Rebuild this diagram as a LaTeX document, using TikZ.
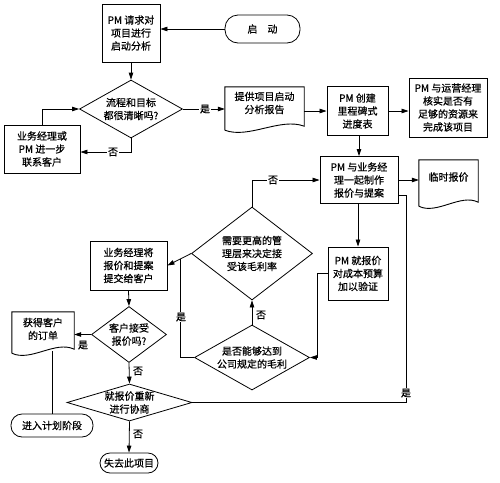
\documentclass[tikz,border=0pt]{standalone}
\usepackage{fontspec}
\newfontfamily\cjk[FakeBold=0.6]{Noto Sans CJK SC}
\usetikzlibrary{shapes.geometric,arrows.meta,calc}
\tikzset{
  base/.style={font=\cjk\fontsize{10}{13}\selectfont, align=center},
  proc/.style={base, draw, line width=0.9pt, inner sep=0pt},
  dec/.style={base, draw, diamond, line width=0.8pt, inner sep=-1pt},
  term/.style={base, draw, rectangle, line width=0.8pt, inner sep=0pt},
  docbox/.style={base, inner sep=0pt},
  conn/.style={line width=0.8pt},
  arr/.style={conn, -{Triangle[length=7pt,width=4.5pt]}},
  lab/.style={base, fill=white, inner sep=1pt},
}
\newcommand\wavedoc[2]{%
  \draw[line width=0.9pt] ($(#1.south west)+(0,#2)$) -- (#1.north west) -- (#1.north east) -- ($(#1.south east)+(0,#2-4)$)
    .. controls ($(#1.south west)!0.7!(#1.south east)+(0,#2-13)$) and ($(#1.south west)!0.3!(#1.south east)+(0,#2+9)$) .. ($(#1.south west)+(0,#2)$);}
\begin{document}
\begin{tikzpicture}[x=1pt,y=-1pt]
\useasboundingbox (0,0) rectangle (500,482);
% nodes
\node[term, rounded corners=13pt, minimum width=75pt, minimum height=28pt] (t0) at (262.5,29) {启\quad 动};
\node[proc, minimum width=58pt, minimum height=58pt] (b1) at (131,33) {PM 请求对\\项目进行\\启动分析};
\node[dec, minimum width=103pt, minimum height=58pt, aspect=1.78] (d3) at (131,109) {流程和目标\\都很清晰吗?};
\node[proc, minimum width=76pt, minimum height=48pt] (b4) at (42,149) {业务经理或\\PM 进一步\\联系客户};
\node[docbox, minimum width=79pt, minimum height=32pt] (d5) at (264.5,103) {提供项目启动\\分析报告};
\wavedoc{d5}{11}
\node[proc, minimum width=61pt, minimum height=49pt] (b6) at (357.5,111) {PM 创建\\里程碑式\\进度表};
\node[proc, minimum width=78pt, minimum height=59pt] (b7) at (448,107.5) {PM 与运营经理\\核实是否有\\足够的资源来\\完成该项目};
\node[proc, minimum width=78pt, minimum height=47pt] (b8) at (359,180) {PM 与业务经\\理一起制作\\报价与提案};
\node[docbox, minimum width=59pt, minimum height=34pt] (d9) at (448.5,177) {临时报价};
\wavedoc{d9}{12}
\node[dec, minimum width=121pt, minimum height=93pt, aspect=1.3] (d10) at (252,253.5) {需要更高的管\\理层来决定接\\受该毛利率};
\node[proc, minimum width=60pt, minimum height=53pt] (b11) at (358,273.5) {PM 就报价\\对成本预算\\加以验证};
\node[dec, minimum width=115pt, minimum height=65pt, aspect=1.77, inner sep=-2pt] (d12) at (252,357.5) {是否能够达到\\公司规定的毛利};
\node[proc, minimum width=77pt, minimum height=49pt] (b13) at (128.5,265.5) {业务经理将\\报价和提案\\提交给客户};
\node[dec, minimum width=75pt, minimum height=56pt, aspect=1.34] (d14) at (129,334.5) {客户接受\\报价吗?};
\node[docbox, minimum width=62pt, minimum height=34pt] (d15) at (43,329) {获得客户\\的订单};
\wavedoc{d15}{7}
\node[term, rounded corners=11pt, minimum width=82pt, minimum height=23pt] (t16) at (52,425.5) {进入计划阶段};
\node[dec, minimum width=125pt, minimum height=37pt, aspect=3.4, inner sep=-3pt] (d17) at (129.5,402.5) {就报价重新\\进行协商};
\node[term, rounded corners=10pt, minimum width=58pt, minimum height=20pt] (t18) at (129,463) {失去此项目};
\coordinate (w15) at (52,351);
\coordinate (r1) at (406,195);
% connectors
\draw[arr] (t0.west) -- (t0.west -| b1.east);
\draw[arr] (b1.south -| d3.north) -- (d3.north);
\draw[arr] (d3.east) -- (d3.east -| d5.west);
\draw[arr] (d3.south) |- ([yshift=-3pt]b4.east);
\draw[arr] (b4.north) |- (d3.west);
\draw[arr] (d5.east |- b6.west) -- (b6.west);
\draw[arr] (b6.east) -- (b6.east -| b7.west);
\draw[arr] (b6.south -| b8.north) -- (b8.north);
\draw[arr] (b8.east) -- (b8.east -| d9.west);
\draw[arr] (b8.south -| b11.north) -- (b11.north);
\draw[arr] (b11.west) -- ++(-10,0) |- (d12.east);
\draw[arr] (d12.north) -- (d10.south);
\draw[arr] (d10.north) |- (b8.west);
\draw[arr] (d10.west) -- (b13.east);
\draw[conn] (d12.west) -| ($(d10.west)!0.44!(b13.east)$);
\draw[arr] (b13.south) -- (d14.north);
\draw[arr] (d14.west) -- (d14.west -| d15.east);
\draw[arr] (d14.south) -- (d17.north);
\draw[arr] (d17.south) -- (t18.north);
\draw[conn] (t16.north) -- (t16.north |- w15);
\draw[conn] (d17.east) -| (r1) -- (r1 -| b8.east);
% labels
\node[lab] (l1) at (205,109) {是};
\node[lab] (l2) at (113,152) {否};
\node[lab] (l3) at (273,180) {否};
\node[lab, fill=none] (l4) at (261,315) {否};
\node[lab] (l5) at (181,317) {是};
\node[lab, fill=none] (l6) at (83,345) {是};
\node[lab, fill=none] (l7) at (138,371) {否};
\node[lab, fill=none] (l8) at (138,434) {否};
\node[lab] (l9) at (406,393) {是};
\end{tikzpicture}
\end{document}
